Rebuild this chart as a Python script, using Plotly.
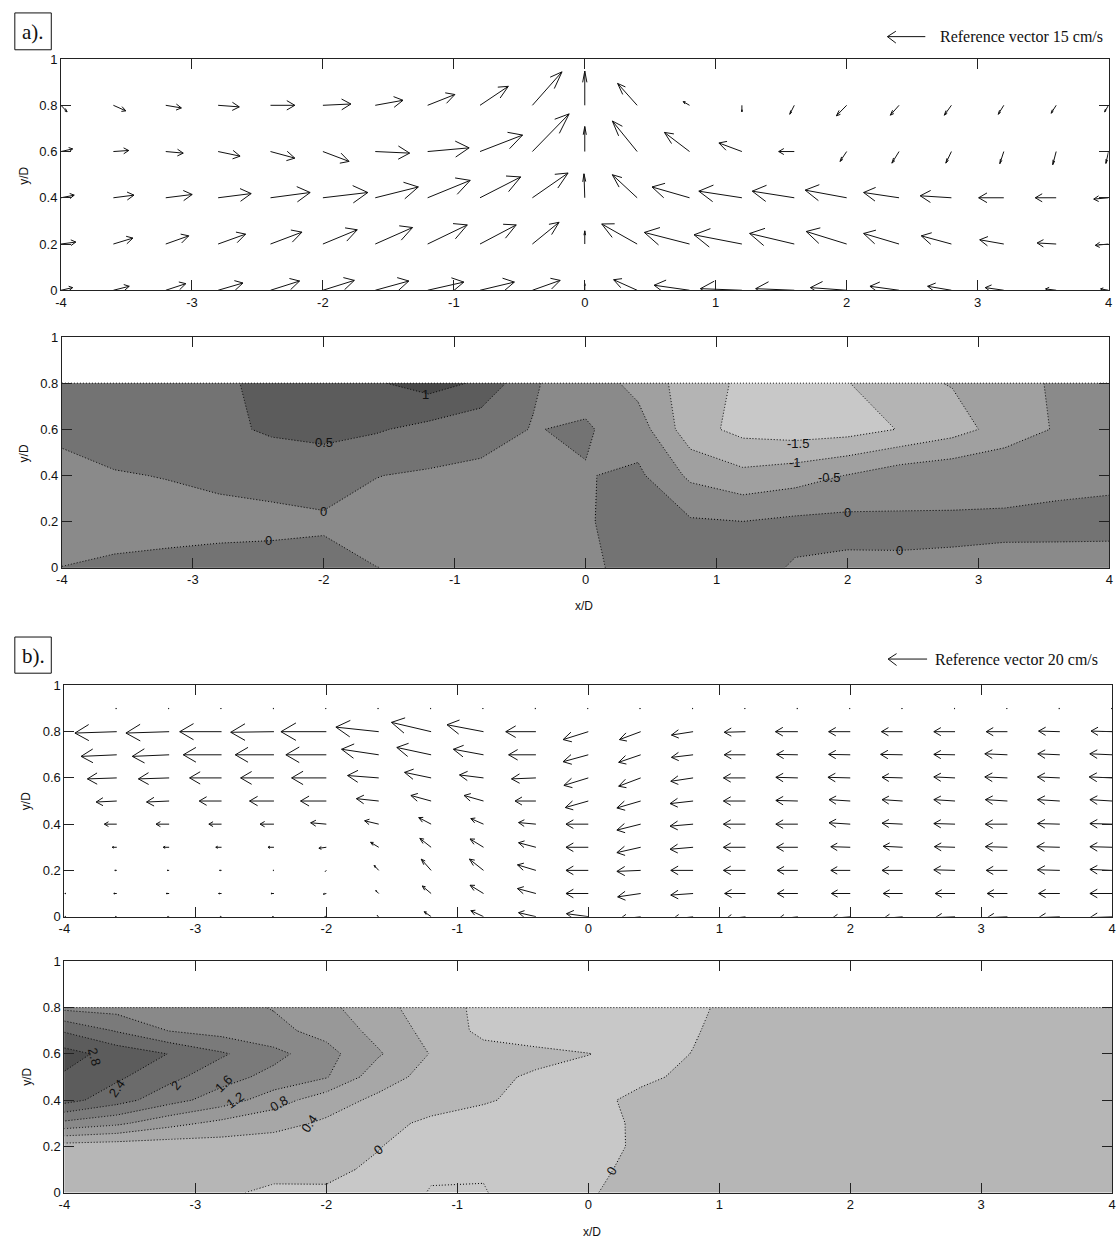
import plotly.graph_objects as go

W, H = 1118, 1247

# ---------------- data ----------------
X = [-4.0, -3.6, -3.2, -2.8, -2.4, -2.0, -1.6, -1.2, -0.8, -0.4, 0.0,
     0.4, 0.8, 1.2, 1.6, 2.0, 2.4, 2.8, 3.2, 3.6, 4.0]

# panel a) velocity field (cm/s), rows y/D = 0 .. 0.8
YA = [0.0, 0.2, 0.4, 0.6, 0.8]
UA = [
    [4.4, 6.0, 7.6, 9.4, 11.0, 11.9, 12.7, 13.7, 13.0, 10.5, 0.0, -8.9, -13.4, -15.7, -14.6, -13.7, -11.0, -9.0, -7.0, -4.0, -3.0],
    [5.6, 7.4, 8.7, 10.4, 11.9, 13.0, 14.1, 15.0, 13.7, 10.1, 0.0, -13.4, -17.1, -18.1, -16.9, -15.3, -13.4, -11.4, -9.1, -7.2, -5.0],
    [5.0, 7.8, 10.0, 12.5, 15.0, 17.0, 16.3, 16.1, 15.4, 13.5, -0.3, -9.4, -14.2, -16.3, -15.9, -15.7, -13.4, -11.8, -9.5, -7.9, -5.6],
    [4.4, 5.8, 6.6, 8.3, 9.2, 9.9, 13.0, 15.7, 16.1, 13.9, 0.0, -9.4, -9.5, -8.7, -5.9, -2.5, -2.7, -2.1, -1.5, -1.3, -1.0],
    [2.3, 4.7, 5.9, 8.0, 9.2, 10.6, 10.5, 10.3, 10.7, 11.2, 0.0, -7.4, -2.4, 0.0, -1.7, -3.9, -3.3, -2.7, -2.1, -1.9, -1.5],
]
VA = [
    [1.0, 1.5, 2.5, 2.75, 3.5, 3.75, 3.5, 3.1, 3.1, 3.75, 2.5, 4.0, 1.9, 0.6, 0.6, 1.0, 1.5, 1.5, 1.0, 0.5, 0.5],
    [0.75, 2.25, 3.1, 3.75, 4.5, 5.4, 6.25, 7.25, 7.25, 8.25, 5.0, 7.6, 4.4, 3.5, 4.0, 4.75, 4.0, 3.1, 1.6, 0.4, -0.5],
    [1.0, 1.0, 1.25, 1.6, 2.0, 2.0, 4.1, 6.6, 7.9, 9.4, 9.1, 8.75, 4.1, 2.5, 2.5, 2.9, 2.0, 0.75, 0.0, 0.0, -0.5],
    [1.0, 0.4, -0.6, -1.75, -2.5, -3.75, -0.6, 1.4, 6.25, 14.3, 9.5, 11.6, 7.25, 3.25, 0.0, -3.75, -4.4, -4.4, -4.6, -5.0, -4.5],
    [-2.5, -2.1, -1.0, -0.6, 0.0, 0.5, 1.9, 4.1, 7.2, 12.7, 13.0, 8.3, 1.4, -2.5, -3.4, -4.0, -3.75, -3.75, -3.4, -3.0, -2.5],
]

# panel b) velocity field (cm/s), rows y/D = 0 .. 0.9
YB = [0.0, 0.1, 0.2, 0.3, 0.4, 0.5, 0.6, 0.7, 0.8, 0.9]
UB = [
    [0.8, -0.8, -0.8, -0.8, -0.8, -0.8, -0.8, -3.5, -6.4, -8.75, -11.0, -11.0, -10.7, -10.5, -10.4, -9.5, -9.8, -10.0, -10.2, -10.7, -11.25],
    [0.8, -1.5, -1.5, -1.5, -1.5, -1.5, -1.5, -4.5, -6.8, -9.3, -11.25, -11.6, -11.25, -10.5, -10.4, -9.5, -9.8, -10.0, -10.2, -10.7, -11.25],
    [0.0, -1.0, -1.0, -1.0, -0.5, -0.5, -2.3, -5.0, -7.1, -9.3, -11.25, -12.0, -11.25, -11.1, -10.4, -9.8, -10.4, -10.7, -10.7, -11.25, -11.25],
    [0.0, -2.3, -3.0, -2.9, -3.0, -3.75, -4.1, -5.7, -6.8, -8.75, -11.25, -12.0, -11.6, -11.1, -10.7, -9.8, -9.8, -10.4, -11.1, -11.6, -11.25],
    [0.0, -6.25, -6.6, -6.4, -7.0, -7.9, -7.1, -6.25, -6.4, -8.75, -11.25, -12.0, -11.6, -11.1, -11.1, -10.7, -10.4, -10.7, -11.1, -11.25, -11.25],
    [0.0, -10.4, -11.4, -11.25, -12.3, -13.0, -11.25, -10.2, -9.8, -10.5, -11.6, -12.0, -11.6, -11.1, -11.1, -10.7, -10.4, -10.7, -11.1, -11.25, -11.25],
    [0.0, -14.8, -15.5, -16.1, -16.8, -17.5, -15.7, -13.4, -12.1, -12.3, -12.3, -11.1, -11.25, -11.1, -11.1, -11.25, -10.4, -10.7, -11.4, -11.25, -11.6],
    [0.0, -18.0, -18.6, -19.3, -19.5, -20.4, -18.75, -17.3, -15.2, -13.75, -12.7, -11.1, -10.9, -10.7, -10.7, -10.9, -11.1, -10.7, -11.4, -11.1, -11.3],
    [0.0, -21.1, -21.8, -21.1, -21.8, -22.9, -21.6, -20.0, -18.4, -15.2, -12.7, -10.7, -10.9, -10.7, -11.3, -10.9, -10.7, -10.7, -10.7, -10.7, -10.7],
    [0.0, -0.5, -0.5, -0.5, -0.5, -0.5, -0.5, -0.5, -0.5, -0.5, -0.5, -0.5, -0.5, -0.5, -0.5, -0.5, -0.5, -0.5, -0.5, -0.5, -0.5],
]
VB = [
    [0.0, 0.0, 0.0, 0.0, 0.0, 0.0, 0.5, 2.5, 3.0, 2.0, 1.5, -1.5, -1.5, -1.5, -1.5, -1.0, -1.0, -0.5, -0.5, -0.5, -0.5],
    [0.0, 0.0, 0.0, 0.0, 0.0, -0.3, 1.5, 3.8, 4.2, 2.5, 0.0, -1.7, -0.8, 0.0, 0.0, 0.0, 0.0, 0.0, 0.0, 0.0, 0.0],
    [0.0, 0.0, 0.0, 0.0, 0.0, -0.5, 2.5, 5.7, 5.7, 2.8, 0.0, -0.5, 0.0, 0.0, 0.0, 0.0, 0.0, 0.3, 0.0, 0.3, 0.5],
    [0.0, 0.0, 0.0, 0.0, 0.0, -0.5, 2.5, 4.5, 4.2, 2.3, 0.0, -2.7, -1.0, 0.0, 0.0, 0.3, 0.5, 0.3, 0.3, 0.3, 0.3],
    [0.0, 0.0, 0.0, 0.0, 0.0, 0.7, 1.7, 3.3, 2.8, 0.8, 0.0, -3.0, -1.0, 0.0, 0.0, 0.7, 0.5, 0.3, 0.0, 0.3, 0.3],
    [0.0, -0.5, -0.5, 0.0, 0.0, 0.0, 1.2, 2.8, 2.8, 0.0, -3.3, -3.5, -1.3, 0.0, 0.3, 0.7, 0.7, 0.7, 0.7, 0.7, 0.7],
    [0.0, -0.5, -0.5, 0.0, 0.0, 0.0, 1.2, 2.8, 1.5, -0.5, -3.8, -4.2, -1.7, 0.0, 0.3, 0.3, 0.3, 0.5, 0.5, 0.5, 0.5],
    [0.0, -0.8, -0.8, 0.0, 0.0, 0.0, 2.8, 3.7, 2.8, 0.0, -3.5, -3.8, -1.3, 0.0, 0.2, 0.2, 0.2, 0.2, 0.5, 0.5, 0.5],
    [0.0, -0.7, -0.7, 0.0, -0.3, 0.0, 2.3, 4.7, 3.5, 0.0, -4.0, -4.0, -1.7, -0.3, 0.0, 0.0, 0.0, 0.0, 0.0, 0.3, 0.3],
    [0.0, 0.0, 0.0, 0.0, 0.0, 0.0, 0.0, 0.0, 0.0, 0.0, 0.0, 0.0, 0.0, 0.0, 0.0, 0.0, 0.0, 0.0, 0.0, 0.0, 0.0],
]

# contour fields
YAC = [0.0, 0.2, 0.4, 0.6, 0.8]
ZA = [
    [0.01, 0.107, 0.148, 0.207, 0.216, 0.187, 0.005, -0.06, -0.15, -0.2, -0.15, 0.25, 0.3, 0.12, -0.03, -0.084, -0.037, -0.027, -0.026, -0.032, -0.037],
    [-0.3, -0.25, -0.2, -0.18, -0.15, -0.08, -0.15, -0.2, -0.25, -0.2, -0.1, 0.45, 0.059, 0.005, 0.103, 0.131, 0.061, 0.033, 0.021, 0.025, 0.027],
    [-0.29, -0.036, 0.02, 0.12, 0.2, 0.25, 0.01, -0.06, -0.083, -0.12, -0.027, 0.099, -0.6, -0.862, -0.72, -0.48, -0.2, -0.1, -0.05, -0.03, -0.02],
    [0.2, 0.25, 0.3, 0.4, 0.56, 0.62, 0.55, 0.35, 0.139, -0.0154, 0.053, -0.25, -1.3, -1.65, -1.75, -1.7, -1.48, -1.2, -0.8, -0.45, -0.35],
    [0.3, 0.3, 0.35, 0.42, 0.62, 0.8, 0.95, 1.2, 0.92, 0.03, -0.18, -0.67, -1.24, -1.59, -1.7, -1.52, -1.12, -0.975, -0.8, -0.4, -0.3],
]
YBC = [0.0, 0.1, 0.2, 0.3, 0.4, 0.5, 0.6, 0.7, 0.8]
ZB = [
    [0.12, 0.11, 0.10, 0.05, -0.06, -0.028, -0.1, -0.43, -0.43, -0.1, -0.05, 0.2, 0.2, 0.21, 0.23, 0.22, 0.24, 0.23, 0.22, 0.21, 0.22],
    [0.15, 0.14, 0.13, 0.13, 0.10, 0.05, -0.04, -0.33, -0.355, -0.25, -0.1, 0.11, 0.18, 0.22, 0.22, 0.23, 0.22, 0.22, 0.21, 0.22, 0.22],
    [0.221, 0.178, 0.171, 0.203, 0.211, 0.15, 0.01, -0.12, -0.2, -0.22, -0.13, 0.053, 0.18, 0.22, 0.22, 0.22, 0.23, 0.22, 0.22, 0.22, 0.22],
    [1.5, 1.29, 0.933, 0.695, 0.526, 0.345, 0.126, -0.08, -0.15, -0.18, -0.12, 0.051, 0.18, 0.22, 0.22, 0.22, 0.22, 0.22, 0.22, 0.22, 0.22],
    [2.55, 2.17, 1.753, 1.404, 0.988, 0.567, 0.321, 0.179, 0.036, -0.1, -0.12, 0.1, 0.15, 0.22, 0.22, 0.22, 0.22, 0.22, 0.22, 0.22, 0.22],
    [2.75, 2.47, 2.114, 1.76, 1.473, 1.23, 0.56, 0.275, 0.108, -0.06, -0.15, -0.08, 0.09, 0.18, 0.2, 0.2, 0.2, 0.2, 0.2, 0.2, 0.2],
    [2.95, 2.65, 2.39, 2.05, 1.72, 1.337, 0.84, 0.378, 0.15, 0.13, 0.01, -0.15, 0.01, 0.15, 0.2, 0.2, 0.2, 0.2, 0.2, 0.2, 0.2],
    [2.36, 1.97, 1.59, 1.446, 1.30, 1.073, 0.663, 0.272, -0.1, -0.3, -0.3, -0.15, -0.03, 0.17, 0.2, 0.22, 0.22, 0.22, 0.22, 0.22, 0.22],
    [1.5, 1.45, 1.4, 1.33, 1.18, 0.904, 0.533, 0.2, -0.1, -0.2, -0.22, -0.18, -0.05, 0.1, 0.15, 0.18, 0.2, 0.2, 0.2, 0.2, 0.2],
]

LEVELS_A = dict(start=-1.5, end=1.0, size=0.5)
LEVELS_B = dict(start=-0.4, end=2.8, size=0.4)
COLORS_A = ["#c8c8c8", "#b4b4b4", "#a0a0a0", "#8a8a8a", "#737373", "#5c5c5c", "#484848"]
COLORS_B = ["#c8c8c8", "#c8c8c8", "#b6b6b6", "#a7a7a7", "#989898", "#898989", "#7a7a7a", "#6b6b6b", "#5c5c5c", "#4d4d4d"]

LABELS_A = [("1", -1.22, 0.75, 0), ("0.5", -2.0, 0.545, 0), ("0", -2.0, 0.245, 0), ("0", -2.42, 0.12, 0),
            ("-1.5", 1.62, 0.54, 0), ("-1", 1.6, 0.455, 0), ("-0.5", 1.86, 0.39, 0), ("0", 2.0, 0.24, 0),
            ("0", 2.4, 0.075, 0)]
LABELS_B = [("2.8", -3.77, 0.59, 75), ("2.4", -3.60, 0.45, -55), ("2", -3.15, 0.465, -50),
            ("1.6", -2.78, 0.47, -45), ("1.2", -2.70, 0.40, -35), ("0.8", -2.36, 0.385, -30),
            ("0.4", -2.13, 0.30, -55), ("0", -1.60, 0.185, -40), ("0", 0.18, 0.095, -60)]

XTICKS = [-4, -3, -2, -1, 0, 1, 2, 3, 4]
XTICKTEXT = ["-4", "-3", "-2", "-1", "0", "1", "2", "3", "4"]
YTICKS = [0, 0.2, 0.4, 0.6, 0.8, 1]
YTICKTEXT = ["0", "0.2", "0.4", "0.6", "0.8", "1"]
REF_A, REF_B = 15, 20

# ---------------- layout geometry (pixels) ----------------
BOX = {
    1: (55.5, 52.7, 1112.5, 286.7),
    2: (56.4, 334.0, 1113.4, 567.7),
    3: (58.9, 686.7, 1116.2, 920.7),
    4: (58.9, 966.0, 1116.2, 1200.0),
}
REF_PX = 40.0  # length of the reference arrow in pixels


def px(x):
    return x / W


def py(y):
    return 1 - y / H


def quiver(X, Y, U, V, box, ref_speed, alpha=0.33, beta=0.33):
    x0p, y0p, x1p, y1p = box
    kx = (x1p - x0p) / (X[-1] - X[0])
    ky = (y1p - y0p) / 1.0
    s = REF_PX / ref_speed
    xs, ys = [], []
    for j, yy in enumerate(Y):
        for i, xx in enumerate(X):
            du = U[j][i] * s / kx
            dv = V[j][i] * s / ky
            xe, ye = xx + du, yy + dv
            xs += [xx, xe, None]
            ys += [yy, ye, None]
            xs += [xe - alpha * (du + beta * dv), xe, xe - alpha * (du - beta * dv), None]
            ys += [ye - alpha * (dv - beta * du), ye, ye - alpha * (dv + beta * du), None]
    return xs, ys


def cscale(colors):
    n = len(colors) - 1
    return [[k / n, c] for k, c in enumerate(colors)]


fig = go.Figure()
axfont = dict(family="Liberation Sans, Arial, sans-serif", size=13, color="#111")
DOT = "1px,2px"

qx, qy = quiver(X, YA, UA, VA, BOX[1], REF_A)
fig.add_trace(go.Scatter(x=qx, y=qy, mode="lines", line=dict(color="#111", width=1),
                         xaxis="x", yaxis="y", hoverinfo="skip", showlegend=False))
fig.add_trace(go.Contour(x=X, y=YAC, z=ZA, xaxis="x2", yaxis="y2", autocontour=False,
                         contours=dict(coloring="fill", showlines=True, **LEVELS_A),
                         colorscale=cscale(COLORS_A), showscale=False,
                         line=dict(color="#000", width=1, dash=DOT, smoothing=0), hoverinfo="skip"))
fig.add_trace(go.Scatter(x=[X[0], X[-1]], y=[YAC[-1], YAC[-1]], mode="lines",
                         line=dict(color="#000", width=1, dash=DOT),
                         xaxis="x2", yaxis="y2", hoverinfo="skip", showlegend=False))
qx, qy = quiver(X, YB, UB, VB, BOX[3], REF_B)
fig.add_trace(go.Scatter(x=qx, y=qy, mode="lines", line=dict(color="#111", width=1),
                         xaxis="x3", yaxis="y3", hoverinfo="skip", showlegend=False))
fig.add_trace(go.Contour(x=X, y=YBC, z=ZB, xaxis="x4", yaxis="y4", autocontour=False,
                         contours=dict(coloring="fill", showlines=True, **LEVELS_B),
                         colorscale=cscale(COLORS_B), showscale=False,
                         line=dict(color="#000", width=1, dash=DOT, smoothing=0), hoverinfo="skip"))
fig.add_trace(go.Scatter(x=[X[0], X[-1]], y=[YBC[-1], YBC[-1]], mode="lines",
                         line=dict(color="#000", width=1, dash=DOT),
                         xaxis="x4", yaxis="y4", hoverinfo="skip", showlegend=False))

layout = dict(width=W, height=H, margin=dict(l=0, r=0, t=0, b=0), autosize=False,
              paper_bgcolor="white", plot_bgcolor="white", showlegend=False)
for k, (x0p, y0p, x1p, y1p) in BOX.items():
    sx = "" if k == 1 else str(k)
    common = dict(showline=True, linecolor="#222", linewidth=1, mirror="ticks",
                  ticks="inside", ticklen=10, tickcolor="#222", tickwidth=1,
                  showgrid=False, zeroline=False, tickfont=axfont, fixedrange=True)
    layout["xaxis" + sx] = dict(domain=[px(x0p), px(x1p)], range=[-4, 4], anchor="y" + sx,
                                tickmode="array", tickvals=XTICKS, ticktext=XTICKTEXT, **common)
    layout["yaxis" + sx] = dict(domain=[py(y1p), py(y0p)], range=[0, 1], anchor="x" + sx,
                                tickmode="array", tickvals=YTICKS, ticktext=YTICKTEXT, **common)

ann, shapes = [], []
titlefont = dict(family="Liberation Sans, Arial, sans-serif", size=12, color="#111")
for (cx, cy) in [(18, 171), (18, 452), (21, 804), (21, 1083)]:
    ann.append(dict(text="y/D", x=px(cx), y=py(cy), xref="paper", yref="paper", showarrow=False,
                    textangle=-90, font=titlefont, xanchor="center", yanchor="middle"))
for (cx, cy) in [(583, 606), (591, 1240)]:
    ann.append(dict(text="x/D", x=px(cx), y=py(cy), xref="paper", yref="paper", showarrow=False,
                    font=titlefont, xanchor="center", yanchor="middle"))

labfont = dict(family="Liberation Sans, Arial, sans-serif", size=13, color="#111")
for t, lx, ly, ang in LABELS_A:
    ann.append(dict(text=t, x=lx, y=ly, xref="x2", yref="y2", showarrow=False, font=labfont,
                    textangle=ang, xanchor="center", yanchor="middle"))
for t, lx, ly, ang in LABELS_B:
    ann.append(dict(text=t, x=lx, y=ly, xref="x4", yref="y4", showarrow=False, font=labfont,
                    textangle=ang, xanchor="center", yanchor="middle"))

serif = "Liberation Serif, Times New Roman, serif"
for tag, (bx0, by0, bx1, by1) in [("a).", (8.9, 6.0, 45.7, 43.3)), ("b).", (8.9, 637.7, 45.7, 674.3))]:
    shapes.append(dict(type="rect", xref="paper", yref="paper", x0=px(bx0), x1=px(bx1),
                       y0=py(by1), y1=py(by0), line=dict(color="#111", width=1)))
    ann.append(dict(text=tag, x=px((bx0 + bx1) / 2), y=py((by0 + by1) / 2 + 1), xref="paper", yref="paper",
                    showarrow=False, font=dict(family=serif, size=21, color="#111"),
                    xanchor="center", yanchor="middle"))

for spd, yy, x_tail, x_tip, x_text in [(REF_A, 30.0, 927.6, 889.4, 940.0), (REF_B, 660.0, 929.4, 890.1, 935.0)]:
    for (a0, b0, a1, b1) in [(x_tail, yy, x_tip, yy), (x_tip, yy, x_tip + 8.5, yy - 5.5), (x_tip, yy, x_tip + 8.5, yy + 6.5)]:
        shapes.append(dict(type="line", xref="paper", yref="paper", x0=px(a0), y0=py(b0),
                           x1=px(a1), y1=py(b1), line=dict(color="#111", width=1)))
    ann.append(dict(text="Reference vector %d cm/s" % spd, x=px(x_text), y=py(yy), xref="paper", yref="paper",
                    showarrow=False, font=dict(family=serif, size=16, color="#111"),
                    xanchor="left", yanchor="middle"))

layout["annotations"] = ann
layout["shapes"] = shapes
fig.update_layout(**layout)
fig.write_html("out.html")
